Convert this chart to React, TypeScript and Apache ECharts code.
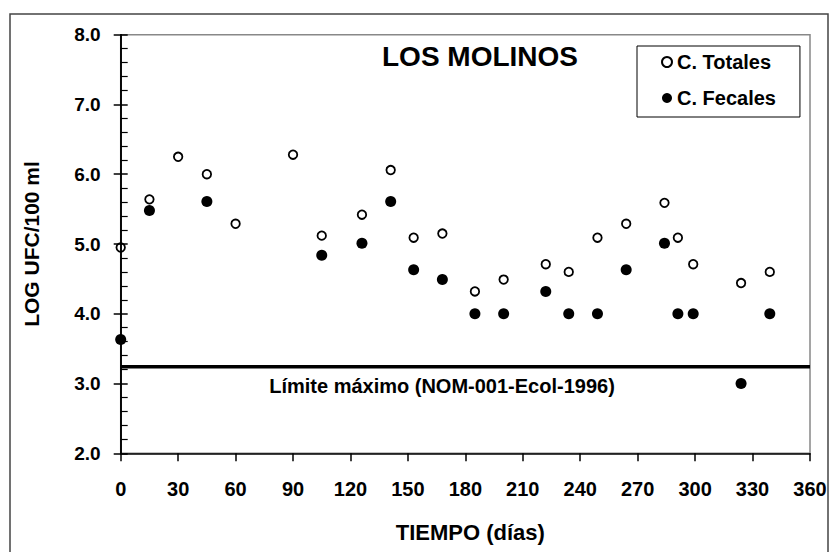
import React, { useEffect, useRef } from "react";
import * as echarts from "echarts";

const daysTotales = [0, 15, 30, 45, 60, 90, 105, 126, 141, 153, 168, 185, 200, 222, 234, 249, 264, 284, 291, 299, 324, 339];
const totales = [4.95, 5.64, 6.25, 6.0, 5.29, 6.28, 5.12, 5.42, 6.06, 5.09, 5.15, 4.32, 4.49, 4.71, 4.6, 5.09, 5.29, 5.59, 5.09, 4.71, 4.44, 4.6];
const daysFecales = [0, 15, 45, 105, 126, 141, 153, 168, 185, 200, 222, 234, 249, 264, 284, 291, 299, 324, 339];
const fecales = [3.63, 5.48, 5.61, 4.84, 5.01, 5.61, 4.63, 4.49, 4.0, 4.0, 4.32, 4.0, 4.0, 4.63, 5.01, 4.0, 4.0, 3.0, 4.0];
const limitDays = [0, 360];
const limitValue = 3.24;
const seriesNames = ["C. Totales", "C. Fecales"];
const chartTitle = "LOS MOLINOS";
const xTitle = "TIEMPO (días)";
const yTitle = "LOG UFC/100 ml";
const limitLabel = "Límite máximo (NOM-001-Ecol-1996)";

const FONT = "'Liberation Sans', Arial, sans-serif";

export default function App() {
  const ref = useRef<HTMLDivElement>(null);
  useEffect(() => {
    if (!ref.current) return;
    const chart = echarts.init(ref.current, null, { renderer: "svg" });
    const totalData = daysTotales.map((d, i) => [d, totales[i]]);
    const fecalData = daysFecales.map((d, i) => [d, fecales[i]]);
    const limitData = limitDays.map((d) => [d, limitValue]);
    const gridRect = { left: 120.7, top: 34.7, width: 689.3, height: 418.6 };
    chart.setOption({
      animation: false,
      backgroundColor: "#fff",
      textStyle: { fontFamily: FONT },
      title: {
        text: chartTitle,
        left: 382,
        top: 42,
        padding: 0,
        textStyle: { fontSize: 28, fontWeight: "bold", color: "#000", fontFamily: FONT },
      },
      legend: {
        orient: "vertical",
        left: 637,
        top: 46,
        padding: [6, 24, 9, 24],
        itemGap: 16,
        itemWidth: 10,
        itemHeight: 10,
        borderColor: "#000",
        borderWidth: 1,
        backgroundColor: "#fff",
        data: seriesNames,
        textStyle: { fontSize: 20, fontWeight: "bold", color: "#000", lineHeight: 20, fontFamily: FONT },
      },
      grid: [
        { ...gridRect, show: true, borderColor: "#888", borderWidth: 1.5, z: -5 },
        { ...gridRect, show: false },
      ],
      xAxis: [
        {
          type: "value",
          gridIndex: 0,
          min: 0,
          max: 360,
          interval: 30,
          name: xTitle,
          nameLocation: "middle",
          nameGap: 68,
          nameTextStyle: { fontSize: 22, fontWeight: "bold", color: "#000", fontFamily: FONT, padding: [0, 0, 0, 10] },
          axisLine: { show: true, lineStyle: { color: "#000", width: 1.5 } },
          axisTick: { show: true, inside: false, length: 8, lineStyle: { color: "#000", width: 1.5 } },
          axisLabel: { fontSize: 20, fontWeight: "bold", color: "#000", margin: 26, fontFamily: FONT },
          splitLine: { show: false },
        },
        { type: "value", gridIndex: 1, min: 0, max: 360, interval: 30, show: false },
      ],
      yAxis: [
        {
          type: "value",
          gridIndex: 0,
          min: 2,
          max: 8,
          interval: 1,
          position: "left",
          name: yTitle,
          nameLocation: "middle",
          nameGap: 79,
          nameTextStyle: { fontSize: 21, fontWeight: "bold", color: "#000", fontFamily: FONT },
          axisLine: { show: true, lineStyle: { color: "#000", width: 1.5 } },
          axisTick: { show: true, inside: false, length: 7, lineStyle: { color: "#000", width: 1.5 } },
          axisLabel: {
            fontSize: 19,
            fontWeight: "bold",
            color: "#000",
            margin: 20,
            fontFamily: FONT,
            formatter: (v: number) => v.toFixed(1),
          },
          splitLine: { show: false },
        },
        {
          type: "value",
          gridIndex: 1,
          min: 2,
          max: 8,
          interval: 1,
          position: "left",
          axisLine: { show: true, lineStyle: { color: "#000", width: 1.5 } },
          axisTick: { show: true, inside: true, length: 7, lineStyle: { color: "#000", width: 1.5 } },
          minorTick: { show: true, splitNumber: 5, length: 7, lineStyle: { color: "#000", width: 1.2 } },
          axisLabel: { show: false },
          splitLine: { show: false },
        },
      ],
      series: [
        {
          name: "limit",
          type: "line",
          data: limitData,
          symbol: "none",
          silent: true,
          lineStyle: { color: "#000", width: 3.5 },
          z: 1,
        },
        {
          name: seriesNames[0],
          type: "scatter",
          data: totalData,
          symbol: "circle",
          symbolSize: 8.5,
          itemStyle: { color: "rgba(255,255,255,0)", borderColor: "#000", borderWidth: 1.8, opacity: 1 },
          z: 3,
        },
        {
          name: seriesNames[1],
          type: "scatter",
          data: fecalData,
          symbol: "circle",
          symbolSize: 11,
          itemStyle: { color: "#000", opacity: 1 },
          z: 3,
        },
      ],
      graphic: [
        {
          type: "rect",
          z: -10,
          shape: { x: 10, y: 14, width: 818, height: 560 },
          style: { fill: "rgba(0,0,0,0)", stroke: "#444", lineWidth: 1.5 },
          silent: true,
        },
        {
          type: "text",
          x: 442,
          y: 386,
          style: {
            text: limitLabel,
            fontSize: 20,
            fontWeight: "bold",
            fill: "#000",
            fontFamily: FONT,
            align: "center",
            verticalAlign: "middle",
          },
          silent: true,
        },
      ],
    });
    return () => chart.dispose();
  }, []);
  return (
    <div
      ref={ref}
      style={{ position: "absolute", left: 0, top: 0, width: 831, height: 552 }}
    />
  );
}
